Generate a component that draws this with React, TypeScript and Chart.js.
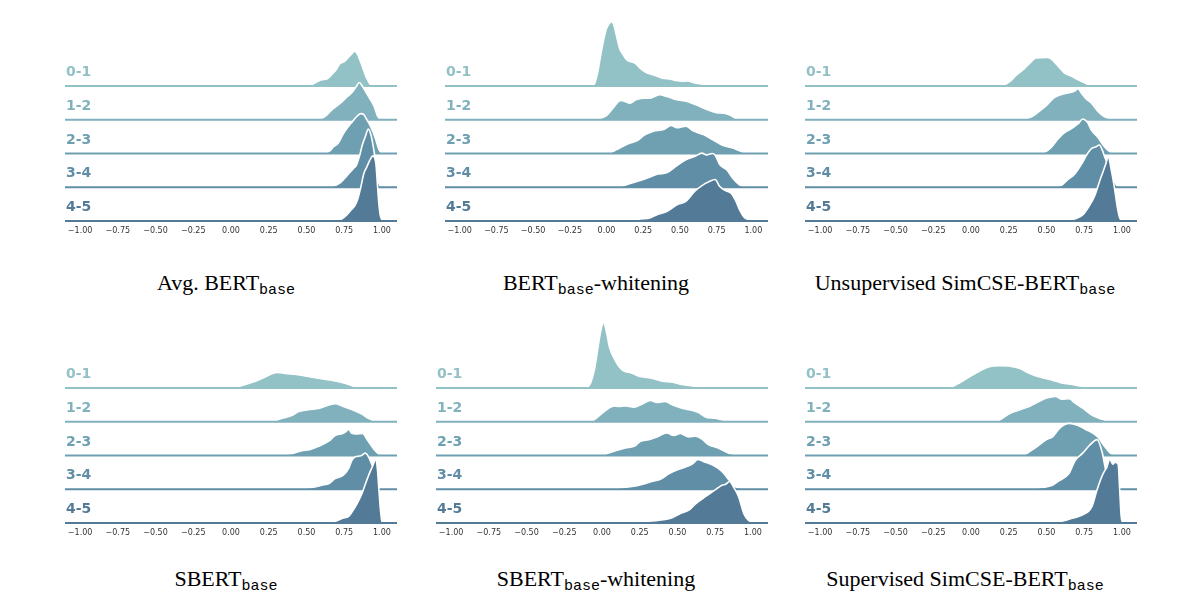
import React, { useEffect, useRef } from "react";
import { Chart, registerables } from "chart.js";

Chart.register(...registerables);

// ---------- data ----------
const X_TICKS = [-1, -0.75, -0.5, -0.25, 0, 0.25, 0.5, 0.75, 1];
const ROW_LABELS = ["0-1", "1-2", "2-3", "3-4", "4-5"];
const RIDGE_COLORS = ["#92c1c6", "#80b1bc", "#6ea0b1", "#5f8ea6", "#537a97"];
const TITLES_MAIN = [
  ["Avg. BERT", ""],
  ["BERT", "-whitening"],
  ["Unsupervised SimCSE-BERT", ""],
  ["SBERT", ""],
  ["SBERT", "-whitening"],
  ["Supervised SimCSE-BERT", ""],
];
const SUBSCRIPT = "base";

// densities: [cosine similarity, density in % of a row spacing]
const AVG_BERT = [
  [[0.5,0],[0.53,3],[0.56,10],[0.6,18],[0.64,22],[0.67,35],[0.7,50],[0.72,65],[0.75,72],[0.78,86],[0.8,95],[0.82,103],[0.84,92],[0.86,70],[0.88,45],[0.9,22],[0.92,6],[0.95,0]],
  [[0.55,0],[0.6,4],[0.63,12],[0.67,30],[0.7,40],[0.74,55],[0.77,68],[0.8,80],[0.83,98],[0.85,110],[0.87,100],[0.89,85],[0.91,70],[0.93,55],[0.95,38],[0.97,12],[0.99,0]],
  [[0.62,0],[0.65,6],[0.68,20],[0.71,30],[0.74,55],[0.77,75],[0.8,92],[0.83,108],[0.86,118],[0.88,115],[0.9,100],[0.92,85],[0.94,65],[0.96,40],[0.98,12],[1.0,0]],
  [[0.66,0],[0.69,5],[0.72,12],[0.75,25],[0.78,40],[0.81,55],[0.83,65],[0.85,90],[0.87,125],[0.89,150],[0.91,172],[0.93,150],[0.95,100],[0.97,40],[0.98,12],[1.0,0]],
  [[0.7,0],[0.73,5],[0.76,15],[0.79,30],[0.82,45],[0.84,65],[0.86,100],[0.88,140],[0.9,160],[0.92,180],[0.94,193],[0.96,170],[0.97,110],[0.98,50],[0.99,15],[1.005,0]],
];
const BERT_WHITENING = [
  [[-0.1,0],[-0.08,8],[-0.06,40],[-0.04,90],[-0.02,135],[0,170],[0.02,185],[0.035,190],[0.05,180],[0.07,145],[0.09,110],[0.11,95],[0.14,76],[0.18,70],[0.2,65],[0.23,52],[0.27,40],[0.31,34],[0.35,28],[0.39,22],[0.43,21],[0.47,16],[0.52,14],[0.55,15],[0.6,9],[0.65,6],[0.7,3],[0.78,0]],
  [[-0.1,0],[-0.05,3],[0,12],[0.04,32],[0.07,48],[0.095,57],[0.12,55],[0.16,49],[0.2,59],[0.25,64],[0.3,64],[0.36,74],[0.41,69],[0.48,59],[0.55,54],[0.61,44],[0.68,31],[0.75,21],[0.8,19],[0.84,14],[0.88,4],[0.92,0]],
  [[0,0],[0.03,3],[0.09,16],[0.16,31],[0.21,38],[0.26,55],[0.32,66],[0.39,71],[0.44,83],[0.48,76],[0.54,81],[0.59,67],[0.66,56],[0.73,39],[0.79,24],[0.86,16],[0.93,4],[0.97,0]],
  [[0.05,0],[0.11,4],[0.16,11],[0.2,16],[0.27,26],[0.35,39],[0.41,43],[0.48,64],[0.54,81],[0.6,91],[0.65,101],[0.68,96],[0.72,100],[0.74,95],[0.77,68],[0.82,51],[0.86,27],[0.91,6],[0.95,0]],
  [[0.05,0],[0.15,2],[0.23,6],[0.3,10],[0.34,18],[0.41,28],[0.48,48],[0.54,58],[0.6,88],[0.65,105],[0.7,117],[0.74,123],[0.77,103],[0.81,90],[0.85,82],[0.88,60],[0.91,30],[0.94,10],[0.97,4],[1.0,0]],
];
const UNSUP_SIMCSE = [
  [[0.15,0],[0.22,3],[0.26,14],[0.3,32],[0.35,50],[0.4,72],[0.43,83],[0.5,84],[0.53,80],[0.58,57],[0.62,38],[0.66,30],[0.71,18],[0.75,10],[0.79,2],[0.82,0]],
  [[0.3,0],[0.38,5],[0.42,14],[0.46,28],[0.5,42],[0.55,65],[0.6,75],[0.65,80],[0.69,86],[0.71,92],[0.73,80],[0.76,63],[0.8,48],[0.84,25],[0.88,10],[0.91,4],[0.95,0]],
  [[0.45,0],[0.49,4],[0.53,17],[0.575,42],[0.62,62],[0.66,72],[0.71,88],[0.74,102],[0.77,93],[0.8,68],[0.84,48],[0.88,22],[0.92,5],[0.96,0]],
  [[0.52,0],[0.6,6],[0.64,22],[0.685,38],[0.73,67],[0.77,98],[0.8,115],[0.83,120],[0.85,125],[0.87,110],[0.89,85],[0.92,53],[0.95,18],[0.97,3],[0.99,0]],
  [[0.55,0],[0.65,3],[0.7,8],[0.74,18],[0.78,42],[0.82,75],[0.85,115],[0.87,140],[0.89,165],[0.91,188],[0.93,150],[0.95,100],[0.97,40],[0.985,10],[1.0,0]],
];
const SBERT = [
  [[-0.05,0],[0.03,3],[0.1,11],[0.17,21],[0.23,33],[0.27,42],[0.31,46],[0.36,43],[0.43,40],[0.5,35],[0.56,30],[0.63,25],[0.69,21],[0.76,13],[0.8,7],[0.83,2],[0.87,0]],
  [[0.2,0],[0.28,2],[0.34,10],[0.41,20],[0.45,30],[0.52,36],[0.58,39],[0.62,45],[0.66,51],[0.69,53],[0.74,46],[0.8,36],[0.87,22],[0.91,10],[0.95,3],[0.98,0]],
  [[0.2,0],[0.35,2],[0.4,5],[0.47,14],[0.52,17],[0.58,27],[0.65,43],[0.69,59],[0.74,65],[0.76,70],[0.78,77],[0.8,66],[0.83,64],[0.87,65],[0.91,42],[0.95,17],[0.98,4],[1.0,0]],
  [[0.45,0],[0.54,5],[0.6,12],[0.65,17],[0.69,32],[0.74,40],[0.78,62],[0.8,85],[0.82,95],[0.86,99],[0.89,107],[0.92,88],[0.95,52],[0.97,17],[0.99,0]],
  [[0.6,0],[0.69,5],[0.74,14],[0.78,20],[0.81,38],[0.85,70],[0.87,90],[0.89,115],[0.92,150],[0.94,170],[0.96,189],[0.97,160],[0.98,100],[0.99,40],[1.0,5],[1.01,0]],
];
const SBERT_WHITENING = [
  [[-0.1,0],[-0.075,15],[-0.05,55],[-0.03,110],[-0.01,165],[0.01,193],[0.03,165],[0.05,120],[0.08,88],[0.11,65],[0.145,50],[0.19,45],[0.245,35],[0.31,30],[0.36,25],[0.4,20],[0.47,17],[0.53,10],[0.58,7],[0.64,3],[0.7,0]],
  [[-0.07,0],[-0.04,10],[0,25],[0.045,40],[0.08,47],[0.11,45],[0.155,47],[0.21,43],[0.27,53],[0.32,63],[0.365,57],[0.42,60],[0.465,50],[0.53,40],[0.6,33],[0.64,27],[0.685,14],[0.75,10],[0.8,5],[0.84,0]],
  [[0,0],[0.03,5],[0.09,14],[0.155,22],[0.22,29],[0.255,42],[0.31,47],[0.365,55],[0.43,67],[0.475,59],[0.52,65],[0.575,55],[0.62,57],[0.66,49],[0.705,32],[0.77,22],[0.84,7],[0.9,2],[0.95,0]],
  [[0.05,0],[0.11,3],[0.2,8],[0.27,15],[0.33,23],[0.39,30],[0.44,45],[0.5,58],[0.55,65],[0.6,75],[0.635,88],[0.685,80],[0.74,70],[0.795,53],[0.84,28],[0.88,8],[0.93,3],[0.96,0]],
  [[0.1,0],[0.22,3],[0.38,8],[0.465,16],[0.53,30],[0.575,38],[0.62,57],[0.685,78],[0.75,98],[0.795,112],[0.82,115],[0.845,123],[0.87,108],[0.905,78],[0.94,28],[0.97,8],[1.0,0]],
];
const SUP_SIMCSE = [
  [[-0.17,0],[-0.12,5],[-0.075,15],[-0.01,33],[0.06,51],[0.12,63],[0.19,66],[0.25,65],[0.32,58],[0.39,43],[0.45,33],[0.54,23],[0.6,15],[0.67,10],[0.74,5],[0.8,0]],
  [[0.1,0],[0.19,5],[0.25,23],[0.32,35],[0.39,46],[0.45,60],[0.5,70],[0.56,75],[0.6,67],[0.65,68],[0.69,55],[0.74,40],[0.8,20],[0.87,7],[0.92,0]],
  [[0.33,0],[0.365,5],[0.43,24],[0.5,47],[0.54,55],[0.59,82],[0.65,95],[0.71,89],[0.76,77],[0.8,68],[0.84,55],[0.88,30],[0.92,8],[0.95,0]],
  [[0.4,0],[0.47,5],[0.54,12],[0.58,24],[0.65,47],[0.69,85],[0.74,107],[0.79,132],[0.835,147],[0.87,108],[0.89,62],[0.92,18],[0.95,0]],
  [[0.55,0],[0.63,8],[0.67,14],[0.74,24],[0.8,48],[0.835,98],[0.86,130],[0.88,150],[0.9,165],[0.92,189],[0.94,174],[0.955,180],[0.975,174],[0.985,100],[0.995,20],[1.005,0]],
];
const PANEL_DATA = [AVG_BERT, BERT_WHITENING, UNSUP_SIMCSE, SBERT, SBERT_WHITENING, SUP_SIMCSE];

// ---------- layout (page pixels) ----------
const ROW_SPACING = 100; // data units between ridge baselines
const PX_PER_UNIT = 0.3375;
const Y_MIN = -10;
const Y_MAX = 600;
const LABEL_LIFT = 40;
const PANEL_BOX = [
  { left: 65, right: 398, base: 221 },
  { left: 445, right: 769, base: 221 },
  { left: 805, right: 1138, base: 221 },
  { left: 65, right: 398, base: 523 },
  { left: 436, right: 769, base: 523 },
  { left: 805, right: 1138, base: 523 },
];
const TITLE_CENTER_X = [226, 596, 965];
const TITLE_BASELINE_Y = [290, 586];

const fmtTick = (v: number) => (v < 0 ? "\u2212" + Math.abs(v).toFixed(2) : v.toFixed(2));

function Panel({ idx }: { idx: number }) {
  const ref = useRef<HTMLCanvasElement | null>(null);
  useEffect(() => {
    const canvas = ref.current!;
    const box = PANEL_BOX[idx];
    const ridges = PANEL_DATA[idx];
    const datasets: any[] = [];
    ridges.forEach((pts, i) => {
      const base = (4 - i) * ROW_SPACING;
      datasets.push({
        data: pts.map(([x, y]) => ({ x, y: y + base })),
        borderColor: "#ffffff",
        borderWidth: 1.6,
        backgroundColor: RIDGE_COLORS[i],
        fill: { value: base },
        pointRadius: 0,
        cubicInterpolationMode: "monotone",
        clip: false,
        order: 10 - 2 * i,
      });
      datasets.push({
        data: [
          { x: -1.1, y: base },
          { x: 1.1, y: base },
        ],
        borderColor: RIDGE_COLORS[i],
        borderWidth: 2,
        pointRadius: 0,
        fill: false,
        clip: false,
        order: 9 - 2 * i,
      });
    });
    const labelValues = ROW_LABELS.map((_, i) => (4 - i) * ROW_SPACING + LABEL_LIFT).reverse();
    const chart = new Chart(canvas, {
      type: "line",
      data: { datasets },
      options: {
        animation: false,
        responsive: false,
        maintainAspectRatio: false,
        devicePixelRatio: 1,
        layout: { padding: 0 },
        plugins: { legend: { display: false }, tooltip: { enabled: false } },
        scales: {
          x: {
            type: "linear",
            min: -1.1,
            max: 1.1,
            afterBuildTicks: (axis: any) => {
              axis.ticks = X_TICKS.map((v) => ({ value: v }));
            },
            grid: { display: false, drawTicks: false },
            border: { display: false },
            ticks: {
              autoSkip: false,
              maxRotation: 0,
              minRotation: 0,
              padding: 2,
              color: "#333333",
              font: { family: "DejaVu Sans", size: 8 },
              callback: (v: any) => fmtTick(Number(v)),
            },
          },
          y: {
            type: "linear",
            min: Y_MIN,
            max: Y_MAX,
            afterBuildTicks: (axis: any) => {
              axis.ticks = labelValues.map((v) => ({ value: v }));
            },
            grid: { display: false, drawTicks: false },
            border: { display: false },
            ticks: {
              mirror: true,
              padding: 1,
              color: (ctx: any) => {
                const row = 4 - Math.round((ctx.tick.value - LABEL_LIFT) / ROW_SPACING);
                return RIDGE_COLORS[row];
              },
              font: { family: "DejaVu Sans", size: 14, weight: "bold" },
              callback: (v: any) => {
                const row = 4 - Math.round((Number(v) - LABEL_LIFT) / ROW_SPACING);
                return ROW_LABELS[row];
              },
            },
          },
        },
      },
    } as any);
    // fit the chart area onto the intended page box
    const wantW = box.right - box.left;
    const wantH = (Y_MAX - Y_MIN) * PX_PER_UNIT;
    const ca = chart.chartArea;
    const W = Math.round(wantW + (chart.width - (ca.right - ca.left)));
    const H = Math.round(wantH + (chart.height - (ca.bottom - ca.top)));
    chart.resize(W, H);
    const ca2 = chart.chartArea;
    const top = box.base - Y_MAX * PX_PER_UNIT;
    canvas.style.left = Math.round(box.left - ca2.left) + "px";
    canvas.style.top = Math.round(top - ca2.top) + "px";
    return () => chart.destroy();
  }, [idx]);
  return (
    <canvas
      ref={ref}
      width={360}
      height={230}
      style={{ position: "absolute", left: 0, top: 0 }}
    />
  );
}

function Title({ idx }: { idx: number }) {
  const col = idx % 3;
  const row = Math.floor(idx / 3);
  const [pre, post] = TITLES_MAIN[idx];
  return (
    <div
      style={{
        position: "absolute",
        left: TITLE_CENTER_X[col] - 200,
        top: TITLE_BASELINE_Y[row] - 18.4,
        width: 400,
        textAlign: "center",
        fontFamily: "'Liberation Serif', 'Times New Roman', serif",
        fontSize: 22,
        lineHeight: "22px",
        color: "#000",
        whiteSpace: "nowrap",
      }}
    >
      {pre}
      <span
        style={{
          fontFamily: "'Liberation Mono', 'Courier New', Courier, monospace",
          fontWeight: 400,
          fontSize: 15,
          lineHeight: 1,
          verticalAlign: "-4px",
        }}
      >
        {SUBSCRIPT}
      </span>
      {post}
    </div>
  );
}

export default function App() {
  return (
    <div
      style={{
        position: "absolute",
        left: 0,
        top: 0,
        width: 1198,
        height: 616,
        overflow: "hidden",
        background: "#ffffff",
      }}
    >
      {PANEL_DATA.map((_, i) => (
        <Panel key={"p" + i} idx={i} />
      ))}
      {PANEL_DATA.map((_, i) => (
        <Title key={"t" + i} idx={i} />
      ))}
    </div>
  );
}
